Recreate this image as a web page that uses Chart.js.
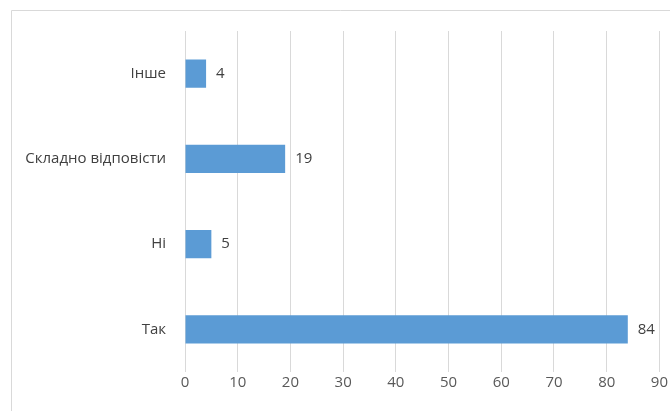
<!DOCTYPE html>
<html>
<head>
<meta charset="utf-8">
<script src="https://cdn.jsdelivr.net/npm/chart.js@4.4.0/dist/chart.umd.min.js"></script>
<style>
  html, body { margin: 0; padding: 0; background: #fff; }
  #wrap { position: relative; width: 670px; height: 411px; }
</style>
</head>
<body>
<div id="wrap"><canvas id="answersChart"></canvas></div>
<script>
// Values
const categories = ['Інше', 'Складно відповісти', 'Ні', 'Так'];
const answerCounts = [4, 19, 5, 84];
const axisMax = 90;
const axisStep = 10;

// Frame line around the chart (only top and left are visible in the crop)
const frameLines = {
    id: 'frameLines',
    beforeDraw(chart) {
        const c = chart.ctx;
        c.save();
        c.strokeStyle = '#d9d9d9';
        c.lineWidth = 1;
        c.beginPath();
        c.moveTo(11.5, chart.height);
        c.lineTo(11.5, 10.5);
        c.lineTo(chart.width, 10.5);
        c.stroke();
        c.restore();
    }
};

// Value labels to the right of each bar
const barValues = {
    id: 'barValues',
    afterDatasetsDraw(chart) {
        const c = chart.ctx;
        const meta = chart.getDatasetMeta(0);
        c.save();
        c.fillStyle = '#404040';
        c.font = '15px "Open Sans"';
        c.textAlign = 'left';
        c.textBaseline = 'middle';
        meta.data.forEach((bar, i) => {
            c.fillText(String(chart.data.datasets[0].data[i]), bar.x + 10, bar.y);
        });
        c.restore();
    }
};

new Chart(document.getElementById('answersChart'), {
    type: 'bar',
    data: {
        labels: categories,
        datasets: [{
            data: answerCounts,
            backgroundColor: '#5b9bd5',
            borderWidth: 0,
            barPercentage: 0.66,
            categoryPercentage: 0.5
        }]
    },
    options: {
        indexAxis: 'y',
        responsive: true,
        maintainAspectRatio: false,
        animation: false,
        layout: { padding: { top: 31, right: 10, left: 0, bottom: 0 } },
        plugins: {
            legend: { display: false },
            tooltip: { enabled: false }
        },
        scales: {
            x: {
                min: 0,
                max: axisMax,
                ticks: {
                    stepSize: axisStep,
                    color: '#595959',
                    font: { family: 'Open Sans', size: 15 },
                    padding: 2
                },
                grid: {
                    color: '#d9d9d9',
                    drawTicks: false
                },
                border: { display: false },
                afterFit(scale) { scale.height = 39; }
            },
            y: {
                ticks: {
                    color: '#404040',
                    font: { family: 'Open Sans', size: 15 },
                    padding: 19
                },
                grid: { display: false, drawTicks: false },
                border: { display: false },
                afterFit(scale) { scale.width = 185; }
            }
        }
    },
    plugins: [frameLines, barValues]
});
</script>
</body>
</html>
